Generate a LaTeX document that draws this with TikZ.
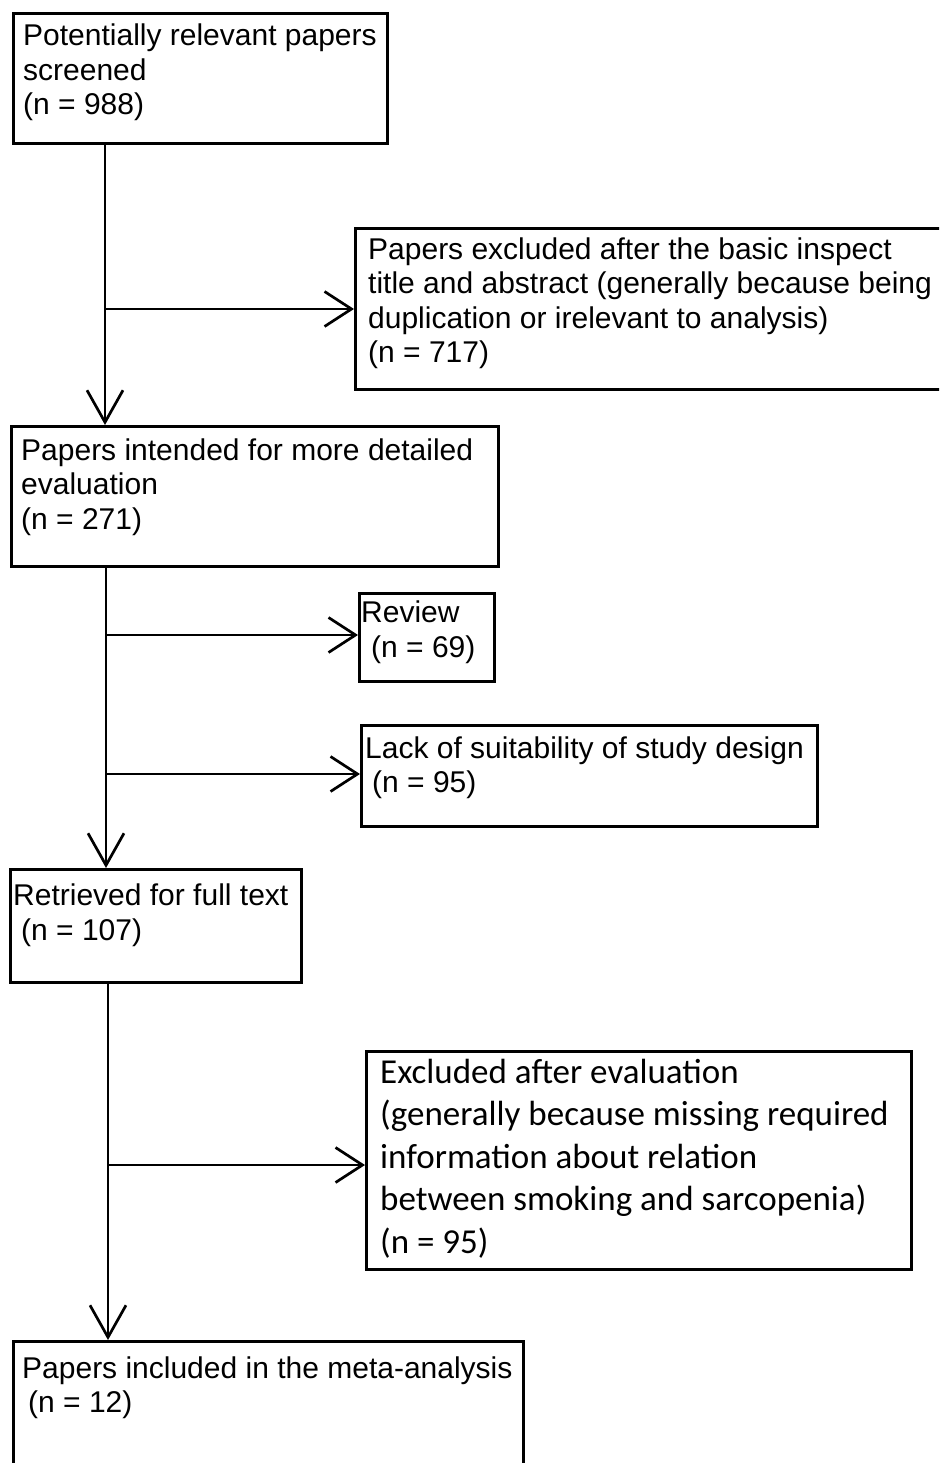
\documentclass[tikz,border=0pt]{standalone}
\usepackage{fontspec}
\setmainfont{Liberation Sans}
\newfontfamily\calib{Carlito}
\usetikzlibrary{arrows.meta,calc}
\begin{document}
\begin{tikzpicture}[x=1pt,y=-1pt,
  box/.style={draw,line width=3.2pt,rectangle,inner sep=0pt,anchor=north west},
  txt/.style={anchor=base west,inner sep=0pt,font=\fontsize{30}{34.5}\selectfont},
  ctxt/.style={anchor=base west,inner sep=0pt,font=\calib\fontsize{35}{42.5}\selectfont},
  flow/.style={line width=2.7pt},
  downarrow/.style={flow,-{Straight Barb[length=32pt,width=36pt]}},
  rightarrow/.style={flow,-{Straight Barb[length=27pt,width=35pt]}}]
\useasboundingbox (0,0) rectangle (939,1463);
\clip (0,0) rectangle (939,1463);
% boxes
\node[box,minimum width=374pt,minimum height=130pt] (b1) at (12,12) {};
\node[box,minimum width=606pt,minimum height=161pt] (e1) at (354,227) {};
\node[box,minimum width=487pt,minimum height=140pt] (b2) at (10,425) {};
\node[box,minimum width=135pt,minimum height=88pt] (r1) at (358,592) {};
\node[box,minimum width=456pt,minimum height=101pt] (r2) at (360,724) {};
\node[box,minimum width=291pt,minimum height=113pt] (b3) at (9,868) {};
\node[box,minimum width=545pt,minimum height=218pt] (e2) at (365,1050) {};
\node[box,minimum width=510pt,minimum height=160pt] (b4) at (12,1340) {};
% texts
\node[txt] (t1) at (23,46) {\vtop{\baselineskip=34.5pt\hbox{Potentially relevant papers}\hbox{screened}\hbox{(n = 988)}}};
\node[txt] (te1) at (368,259) {\vtop{\baselineskip=34.5pt\hbox{Papers excluded after the basic inspect}\hbox{title and abstract (generally because being}\hbox{duplication or irelevant to analysis)}\hbox{(n = 717)}}};
\node[txt] (t2) at (21,460) {\vtop{\baselineskip=34.5pt\hbox{Papers intended for more detailed}\hbox{evaluation}\hbox{(n = 271)}}};
\node[txt] (tr1) at (361,622) {\vtop{\baselineskip=35pt\hbox{Review}\hbox{\hspace{10pt}(n = 69)}}};
\node[txt] (tr2) at (365,758) {\vtop{\baselineskip=34.5pt\hbox{Lack of suitability of study design}\hbox{\hspace{7pt}(n = 95)}}};
\node[txt] (t3) at (13,905) {\vtop{\baselineskip=35pt\hbox{Retrieved for full text}\hbox{\hspace{8pt}(n = 107)}}};
\node[ctxt] (te2) at (380,1083) {\vtop{\baselineskip=42.5pt\hbox{Excluded after evaluation}\hbox{(generally because missing required}\hbox{information about relation}\hbox{between smoking and sarcopenia)}\hbox{(n = 95)}}};
\node[txt] (t4) at (22,1378) {\vtop{\baselineskip=34pt\hbox{Papers included in the meta-analysis}\hbox{\hspace{6pt}(n = 12)}}};
% junctions
\coordinate (j1) at (105,309);
\coordinate (j2) at (106,635);
\coordinate (j3) at (106,774);
\coordinate (j4) at (108,1165);
% connectors
\draw[downarrow] (b1.south -| j1) -- (b2.north -| j1);
\draw[rightarrow] (j1) -- (e1.west |- j1);
\draw[downarrow] (b2.south -| j2) -- (b3.north -| j2);
\draw[rightarrow] (j2) -- (r1.west |- j2);
\draw[rightarrow] (j3) -- (r2.west |- j3);
\draw[downarrow] (b3.south -| j4) -- (b4.north -| j4);
\draw[rightarrow] (j4) -- (e2.west |- j4);
\end{tikzpicture}
\end{document}
